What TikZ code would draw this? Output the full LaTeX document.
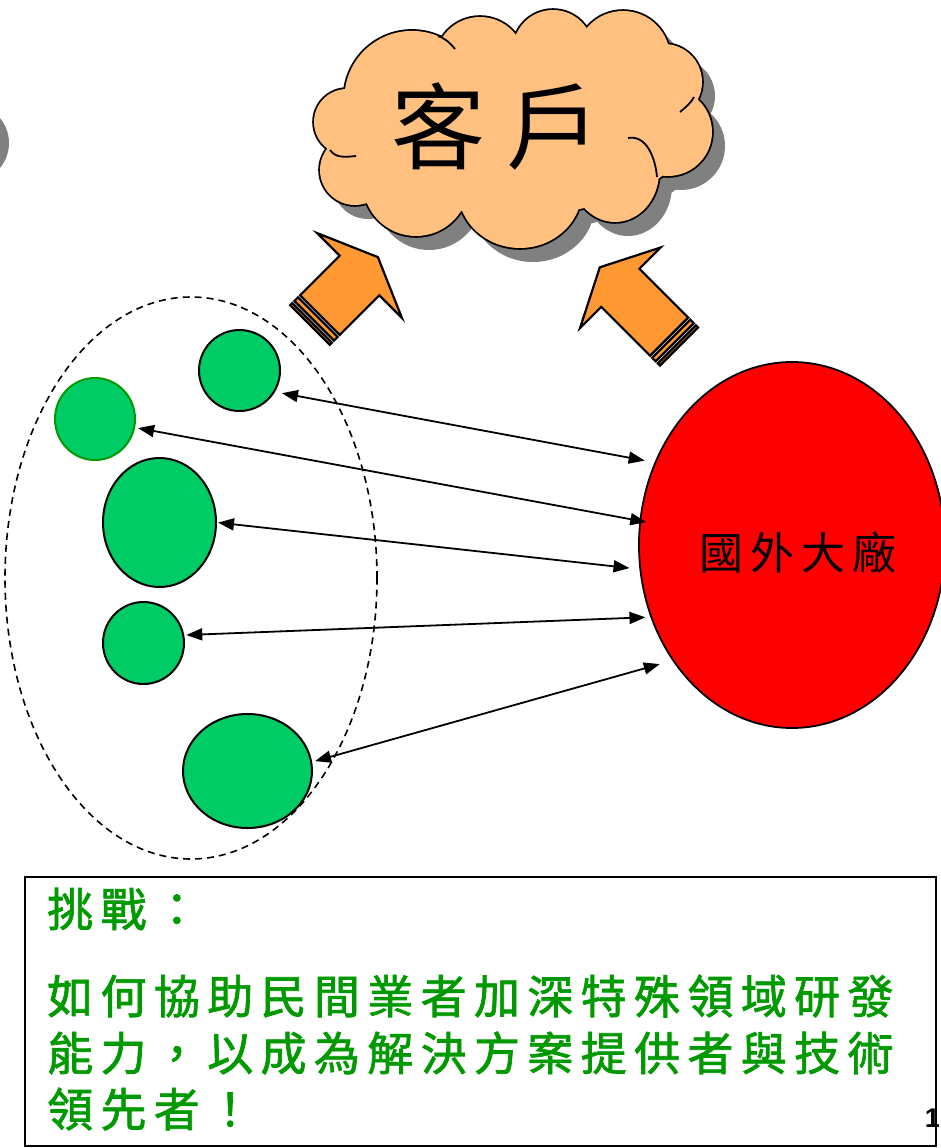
\documentclass[tikz,border=0pt]{standalone}
\usepackage{fontspec}
\usetikzlibrary{shapes.geometric,arrows.meta}
\newfontfamily\cjk{Noto Sans CJK TC}
\newfontfamily\cjksp[LetterSpace=16]{Noto Sans CJK TC}
\newfontfamily\cjkboxfont[LetterSpace=16,FakeBold=1.5]{Noto Sans CJK TC}
\newfontfamily\arialf{Liberation Sans}
\definecolor{cloudfill}{RGB}{255,192,128}
\definecolor{arrowfill}{RGB}{255,153,51}
\definecolor{ballgreen}{RGB}{0,204,102}
\definecolor{darkgreen}{RGB}{0,153,0}
\definecolor{textgreen}{RGB}{0,153,0}
\definecolor{shadowgray}{RGB}{128,128,128}
\def\mycloudpath{
  (347,122) circle (33pt)
  (355,170) circle (35pt)
  (416,183) circle (53pt)
  (520,190) ellipse [x radius=62pt, y radius=58pt]
  (615,172) ellipse [x radius=44pt, y radius=50pt]
  (668,132) circle (44pt)
  (664,82) circle (38pt)
  (623,58) circle (47pt)
  (553,50) circle (40pt)
  (480,62) circle (45pt)
  (412,98.5) circle (67.6pt)
  (515,130) ellipse [x radius=175pt, y radius=85pt]
}
\begin{document}
\begin{tikzpicture}[x=1pt,y=-1pt,
  ball/.style={ellipse, draw=black, line width=2pt, fill=ballgreen, inner sep=0pt},
  link/.style={{Triangle[length=16pt,width=12pt]}-{Triangle[length=16pt,width=12pt]}, line width=1.8pt},
  orangearrow/.style={fill=arrowfill, draw=black, line width=2.2pt, line join=miter},
  crease/.style={draw=black, line width=1.8pt},
  boxtext/.style={anchor=west, inner sep=0pt, text=textgreen, font=\cjkboxfont\fontsize{46}{46}\selectfont}
]
\useasboundingbox (0,0) rectangle (941,1148);
\fill[white] (0,0) rectangle (941,1148);
\fill[shadowgray] (-30,143) circle (39pt);
% cloud: shadow, outline, fill, creases
\begin{scope}[shift={(13,14)}]
  \fill[shadowgray] \mycloudpath;
\end{scope}
\draw[black, line width=3.6pt] \mycloudpath;
\fill[cloudfill] \mycloudpath;
\draw[crease] (628,138) to[out=10,in=95] (657,177);
\draw[crease] (330,150) to[out=-55,in=185] (356,156);
\draw[crease] (438,36) to[out=-20,in=130] (455,49);
\draw[crease] (680,112) to[out=40,in=-120] (694,97);
\node[font=\cjk\fontsize{94}{94}\selectfont, inner sep=0pt] (clienttext) at (496,126) {客 戶};
% orange striped arrows
\begin{scope}[shift={(310,325)}, rotate=45]
  \draw[orangearrow] (0,-28) rectangle (3,28);
  \draw[orangearrow] (6,-28) rectangle (11,28);
  \draw[orangearrow] (14,-28) -- (70,-28) -- (70,-60) -- (96,0) -- (70,60) -- (70,28) -- (14,28) -- cycle;
\end{scope}
\begin{scope}[shift={(679,346.5)}, rotate=135]
  \draw[orangearrow] (0,-27) rectangle (3,27);
  \draw[orangearrow] (6,-27) rectangle (11,27);
  \draw[orangearrow] (14,-27) -- (83,-27) -- (83,-57) -- (112,0) -- (83,57) -- (83,27) -- (14,27) -- cycle;
\end{scope}
% dashed group
\node[ellipse, draw, dash pattern=on 7pt off 5pt, line width=1.6pt, minimum width=372pt, minimum height=562pt, inner sep=0pt] (group) at (191,578) {};
% green balls
\node[ball, minimum width=81pt, minimum height=81pt] (g1) at (239.5,370.5) {};
\node[ball, draw=darkgreen, minimum width=80pt, minimum height=82pt] (g2) at (95,419) {};
\node[ball, minimum width=113pt, minimum height=129pt] (g3) at (159.5,522.5) {};
\node[ball, minimum width=81pt, minimum height=82pt] (g4) at (143.5,643) {};
\node[ball, minimum width=129pt, minimum height=114pt] (g5) at (247.5,771) {};
% big foreign maker
\node[ellipse, draw=black, line width=1.8pt, fill=red, minimum width=306pt, minimum height=366pt, inner sep=0pt] (maker) at (792,545) {};
\node[font=\cjksp\fontsize{44}{44}\selectfont, inner sep=0pt] (makerlabel) at (798,552) {國外大廠};
% links
\draw[link, shorten <=7pt, shorten >=10pt] (g1.-31) -- (maker.149);
\draw[link, shorten <=3pt, shorten >=-7pt] (g2.-12) -- (maker.171);
\draw[link, shorten <=1pt, shorten >=10pt] (g3.-0.5) -- (maker.189);
\draw[link, shorten <=2pt, shorten >=5pt] (g4.11) -- (maker.207);
\draw[link, shorten <=3pt, shorten >=13pt] (g5.8) -- (maker.224);
% challenge box
\node[font=\arialf\bfseries\fontsize{27}{27}\selectfont, anchor=south east, inner sep=0pt] (pagenum) at (940,1128) {1};
\node[draw=black, line width=2pt, minimum width=911pt, minimum height=269pt, anchor=north west, inner sep=0pt] (challengebox) at (24,876) {};
\node[boxtext] (line1) at (47,909) {挑戰：};
\node[boxtext] (line2) at (47,996) {如何協助民間業者加深特殊領域研發};
\node[boxtext] (line3) at (47,1053) {能力，以成為解決方案提供者與技術};
\node[boxtext] (line4) at (47,1109) {領先者！};
\end{tikzpicture}
\end{document}
